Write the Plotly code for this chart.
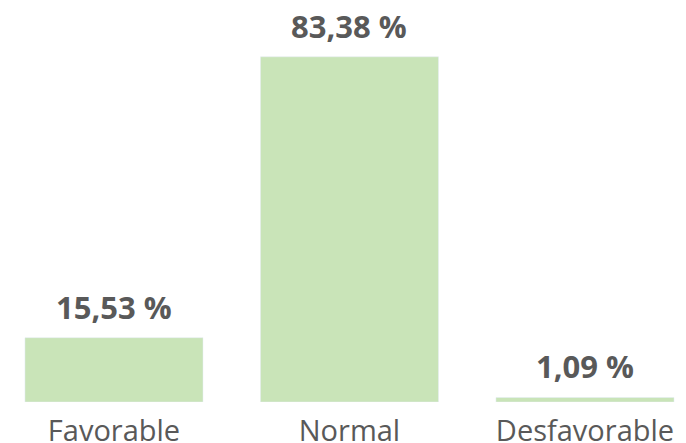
import plotly.graph_objects as go

categories = ["Favorable", "Normal", "Desfavorable"]
values = [15.53, 83.38, 1.09]
labels = [f"{v:.2f}".replace(".", ",") + " %" for v in values]

fig = go.Figure()

fig.add_trace(go.Bar(
    x=categories,
    y=values,
    width=0.756,
    marker_color="#c9e4b8",
    hoverinfo="skip",
))

# value labels above the bars
for cat, val, lab in zip(categories, values, labels):
    fig.add_annotation(
        x=cat, y=val, text=lab, showarrow=False,
        yanchor="bottom", yshift=8,
        font=dict(family="Open Sans", size=31, color="#595959", weight="bold"),
    )

fig.update_layout(
    width=686,
    height=443,
    margin=dict(l=0, r=0, t=0, b=41, autoexpand=False),
    plot_bgcolor="white",
    paper_bgcolor="white",
    showlegend=False,
    xaxis=dict(range=[-0.484, 2.429], showgrid=False, showline=False, ticks="",
               automargin=False, ticklabelstandoff=9,
               tickfont=dict(family="Open Sans", size=29, color="#595959")),
    yaxis=dict(range=[0, 97.1], visible=False),
)

fig.write_html("out.html", config={"displayModeBar": False},
               post_script="document.body.style.margin='0';")
